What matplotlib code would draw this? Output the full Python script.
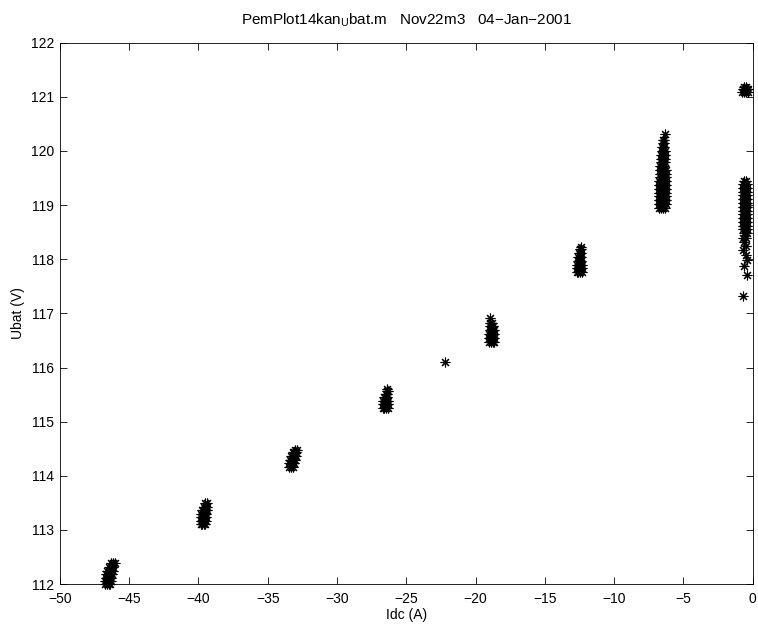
import matplotlib
matplotlib.use("Agg")
import matplotlib.pyplot as plt

plt.rcParams["font.family"] = ["Liberation Sans", "DejaVu Sans"]
plt.rcParams["font.size"] = 10
plt.rcParams["mathtext.fontset"] = "custom"
plt.rcParams["mathtext.rm"] = "Liberation Sans"

# measured operating points, one block per current level: (Ubat, [Idc values])
blk_465 = [
    (112.00, [-46.75, -46.6, -46.45, -46.35]),
    (112.06, [-46.72, -46.57, -46.42, -46.3]),
    (112.12, [-46.7, -46.55, -46.4, -46.28]),
    (112.18, [-46.65, -46.5, -46.35, -46.22]),
    (112.25, [-46.6, -46.45, -46.3, -46.18]),
    (112.32, [-46.45, -46.3, -46.15]),
    (112.38, [-46.3, -46.15, -46.05]),
]
blk_396 = [
    (113.10, [-39.85, -39.72, -39.6, -39.5]),
    (113.16, [-39.85, -39.72, -39.58, -39.47]),
    (113.23, [-39.82, -39.7, -39.56, -39.44]),
    (113.30, [-39.8, -39.67, -39.54, -39.42]),
    (113.37, [-39.72, -39.58, -39.45, -39.35]),
    (113.43, [-39.6, -39.48, -39.36]),
    (113.49, [-39.5, -39.38]),
]
blk_332 = [
    (114.17, [-33.45, -33.32, -33.2]),
    (114.24, [-33.45, -33.32, -33.18, -33.08]),
    (114.30, [-33.4, -33.27, -33.14, -33.03]),
    (114.37, [-33.3, -33.18, -33.05, -32.95]),
    (114.43, [-33.2, -33.08, -32.95]),
    (114.48, [-33.05, -32.92]),
]
blk_265 = [
    (115.26, [-26.7, -26.58, -26.45, -26.35]),
    (115.32, [-26.7, -26.57, -26.44, -26.33]),
    (115.39, [-26.68, -26.55, -26.42, -26.32]),
    (115.45, [-26.6, -26.48, -26.36]),
    (115.51, [-26.5, -26.38]),
    (115.57, [-26.42, -26.34]),
    (115.61, [-26.36]),
]
blk_188 = [
    (116.48, [-19.0, -18.88, -18.76, -18.68]),
    (116.55, [-19.02, -18.9, -18.78, -18.67]),
    (116.62, [-19.0, -18.88, -18.76, -18.66]),
    (116.69, [-18.98, -18.86, -18.74, -18.66]),
    (116.76, [-18.96, -18.84, -18.72]),
    (116.83, [-18.93, -18.8]),
    (116.92, [-18.95]),
]
blk_222 = [
    (116.10, [-22.2]),
]
blk_125 = [
    (117.76, [-12.7, -12.58, -12.46, -12.35]),
    (117.83, [-12.68, -12.56, -12.44, -12.34]),
    (117.90, [-12.66, -12.54, -12.42, -12.33]),
    (117.97, [-12.62, -12.5, -12.38]),
    (118.04, [-12.58, -12.46, -12.36]),
    (118.11, [-12.5, -12.4]),
    (118.18, [-12.44, -12.38]),
    (118.23, [-12.38]),
]
blk_65 = [
    (118.95, [-6.76, -6.6, -6.45, -6.3]),
    (119.02, [-6.78, -6.62, -6.46, -6.29]),
    (119.09, [-6.77, -6.61, -6.46, -6.29]),
    (119.16, [-6.76, -6.6, -6.44, -6.28]),
    (119.23, [-6.76, -6.59, -6.44, -6.28]),
    (119.30, [-6.75, -6.59, -6.43, -6.27]),
    (119.37, [-6.74, -6.58, -6.43, -6.27]),
    (119.44, [-6.73, -6.57, -6.42, -6.27]),
    (119.51, [-6.72, -6.57, -6.42, -6.27]),
    (119.58, [-6.71, -6.56, -6.41, -6.26]),
    (119.65, [-6.7, -6.55, -6.4, -6.26]),
    (119.72, [-6.66, -6.52, -6.38]),
    (119.79, [-6.64, -6.5, -6.36]),
    (119.86, [-6.62, -6.48, -6.35]),
    (119.93, [-6.6, -6.47, -6.35]),
    (120.00, [-6.57, -6.45, -6.34]),
    (120.07, [-6.53, -6.41]),
    (120.14, [-6.5, -6.39]),
    (120.21, [-6.45, -6.37]),
    (120.32, [-6.36]),
]
blk_05 = [
    (117.32, [-0.72]),
    (117.71, [-0.38]),
    (117.87, [-0.62]),
    (117.98, [-0.42]),
    (118.08, [-0.5]),
    (118.17, [-0.7]),
    (118.25, [-0.45]),
    (118.32, [-0.62]),
    (118.40, [-0.72, -0.5]),
    (118.48, [-0.6, -0.4]),
    (118.55, [-0.72, -0.56, -0.4]),
    (118.62, [-0.73, -0.56, -0.39]),
    (118.69, [-0.72, -0.55, -0.38]),
    (118.76, [-0.73, -0.56, -0.39]),
    (118.83, [-0.72, -0.55, -0.38]),
    (118.90, [-0.73, -0.56, -0.39]),
    (118.97, [-0.72, -0.55, -0.38]),
    (119.04, [-0.73, -0.56, -0.39]),
    (119.11, [-0.72, -0.55, -0.38]),
    (119.18, [-0.73, -0.56, -0.39]),
    (119.25, [-0.72, -0.55, -0.38]),
    (119.32, [-0.72, -0.56, -0.4]),
    (119.39, [-0.7, -0.55, -0.42]),
    (119.44, [-0.62, -0.5]),
]
blk_05_top = [
    (121.09, [-0.74, -0.6, -0.46, -0.36]),
    (121.15, [-0.72, -0.58, -0.44, -0.36]),
    (121.19, [-0.62, -0.48]),
]

blocks = [blk_465, blk_396, blk_332, blk_265, blk_222, blk_188,
          blk_125, blk_65, blk_05, blk_05_top]

idc, ubat = [], []
for blk in blocks:
    for u, xs in blk:
        for x in xs:
            idc.append(x)
            ubat.append(u)

fig = plt.figure(figsize=(7.58, 6.28), dpi=100)
ax = fig.add_axes([0.079, 0.070, 0.914, 0.862])

# MATLAB-style '*' marker: 8 spokes
ax.plot(idc, ubat, linestyle="none", marker=(8, 2, 0), markersize=7,
        markeredgewidth=0.8, color="black", clip_on=False)

ax.set_xlim(-50, 0)
ax.set_ylim(112, 122)
ax.set_xticks(range(-50, 1, 5))
ax.set_yticks(range(112, 123))
ax.tick_params(direction="in", top=True, right=True, length=5, width=0.6,
               labelsize=10)
ax.tick_params(axis="x", pad=6)
ax.tick_params(axis="y", pad=4)
for s in ax.spines.values():
    s.set_linewidth(0.6)

ax.set_xlabel("Idc (A)", fontsize=10, labelpad=1)
ax.set_ylabel("Ubat (V)", fontsize=10, labelpad=4)
ax.set_title(r"PemPlot14kan$_\mathregular{U}$bat.m   Nov22m3   04−Jan−2001",
             fontsize=11, pad=13)

fig.savefig("out.png", dpi=100)
